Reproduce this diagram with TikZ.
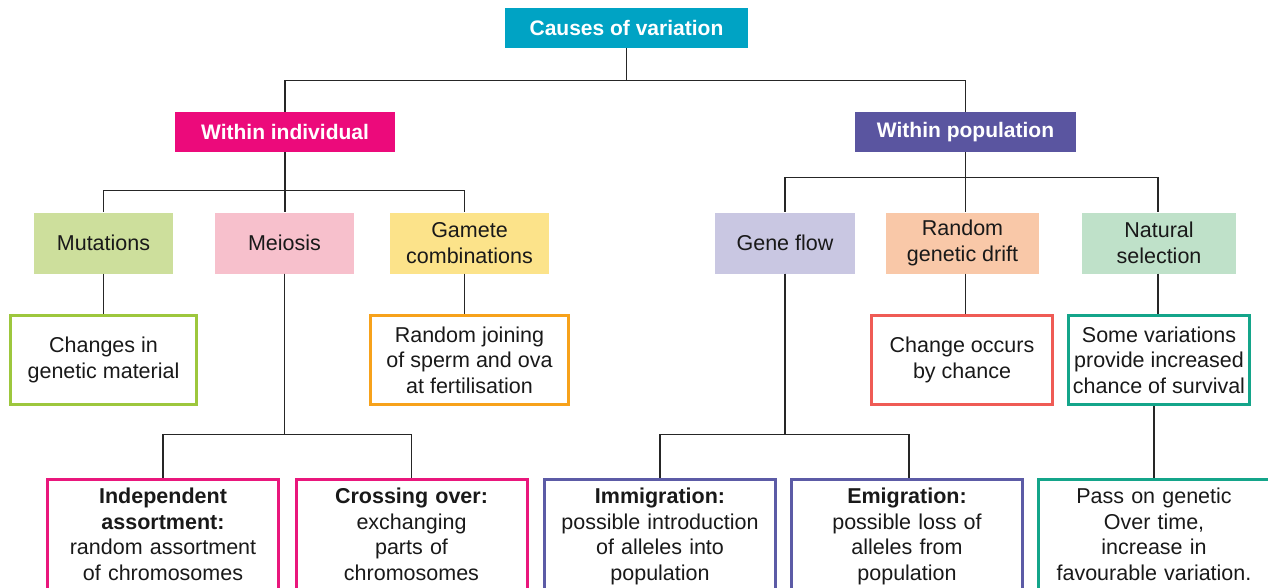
\documentclass[tikz,border=0pt]{standalone}
\usepackage{fontspec}
\setmainfont{Liberation Sans}
\usetikzlibrary{calc}
\definecolor{ccyan}{HTML}{00A3C4}
\definecolor{cmag}{HTML}{EC0A7B}
\definecolor{cpur}{HTML}{5A55A0}
\definecolor{fmut}{HTML}{CDDF9C}
\definecolor{fmei}{HTML}{F7C0CC}
\definecolor{fgam}{HTML}{FCE38A}
\definecolor{fgf}{HTML}{C9C7E2}
\definecolor{frgd}{HTML}{F9C8A8}
\definecolor{fns}{HTML}{BFE1C9}
\definecolor{cgreen}{HTML}{9DC73D}
\definecolor{corange}{HTML}{F7A21B}
\definecolor{cpink}{HTML}{E9177C}
\definecolor{cblue}{HTML}{5C5BA6}
\definecolor{cred}{HTML}{EF5B55}
\definecolor{cteal}{HTML}{14A58A}
\begin{document}
\begin{tikzpicture}[x=1pt,y=-1pt,
  every node/.style={font=\fontsize{21.5}{25.6}\selectfont, align=center, inner sep=0pt, text=black!90},
  head/.style={minimum height=40pt, text=white, font=\fontsize{21}{25}\selectfont\bfseries},
  cat/.style={minimum height=61pt},
  desc/.style={draw, line width=3pt, minimum height=89pt},
  leaf/.style={draw, line width=3pt, anchor=north, inner xsep=0pt, inner ysep=9pt, text width=231pt},
  link/.style={draw=black!85, line width=1.4pt}
]
\useasboundingbox (0,0) rectangle (1268,587);
\clip (0,0) rectangle (1268,587);

% level 0/1
\node[head, fill=ccyan, minimum width=243pt] (title) at (626.5,28) {Causes of variation};
\node[head, fill=cmag, minimum width=220pt] (wi) at (285,132) {Within individual};
\node[head, fill=cpur, minimum width=221pt] (wp) at (965.5,132) {Within population};

% level 2
\node[cat, fill=fmut, minimum width=139pt] (mut) at (103.5,243) {Mutations};
\node[cat, fill=fmei, minimum width=139pt] (mei) at (284.5,243) {Meiosis};
\node[cat, fill=fgam, minimum width=159pt] (gam) at (469.5,243) {Gamete\\combinations};
\node[cat, fill=fgf, minimum width=140pt] (gf) at (785,243) {Gene flow};
\node[cat, fill=frgd, minimum width=153pt] (rgd) at (962.5,243) {Random\\genetic drift};
\node[cat, fill=fns, minimum width=154pt] (ns) at (1159,243) {Natural\\selection};

% level 3
\node[desc, draw=cgreen, minimum width=186pt] (chg) at (103.5,360) {Changes in\\genetic material};
\node[desc, draw=corange, minimum width=198pt] (join) at (469.5,360) {Random joining\\of sperm and ova\\at fertilisation};
\node[desc, draw=cred, minimum width=181pt] (chance) at (962,360) {Change occurs\\by chance};
\node[desc, draw=cteal, minimum width=181pt] (some) at (1159,360) {Some variations\\provide increased\\chance of survival};

% level 4
\node[leaf, draw=cpink] (ind) at (163,477.5) {\textbf{Independent}\\\textbf{assortment:}\\random assortment\\of chromosomes};
\node[leaf, draw=cpink] (cross) at (411.5,477.5) {\textbf{Crossing over:}\\exchanging\\parts of\\chromosomes};
\node[leaf, draw=cblue] (immig) at (660,477.5) {\textbf{Immigration:}\\possible introduction\\of alleles into\\population};
\node[leaf, draw=cblue] (emig) at (907,477.5) {\textbf{Emigration:}\\possible loss of\\alleles from\\population};
\node[leaf, draw=cteal] (pass) at (1154,477.5) {Pass on genetic\\Over time,\\increase in\\favourable variation.};

% connectors
\draw[link] (title.south) -- ++(0,32) -| (wi.north);
\draw[link] (title.south) -- ++(0,32) -| (wp.north);
\draw[link] (wi.south) -- ++(0,38) -| (mut.north);
\draw[link] (wi.south) -- (wi.south |- mei.north);
\draw[link] (wi.south) -- ++(0,38) -| ([xshift=-5pt]gam.north);
\draw[link] (wp.south) -- ++(0,25) -| (gf.north);
\draw[link] (wp.south) -- (wp.south |- rgd.north);
\draw[link] (wp.south) -- ++(0,25) -| ([xshift=-1pt]ns.north);
\draw[link] (mut.south) -- (mut.south |- chg.north);
\draw[link] ([xshift=-5pt]gam.south) -- ([xshift=-5pt]gam.south |- join.north);
\draw[link] (wp.south |- rgd.south) -- (wp.south |- chance.north);
\draw[link] ([xshift=-1pt]ns.south) -- ([xshift=-1pt]ns.south |- some.north);
\draw[link] (pass.north |- some.south) -- (pass.north);
\draw[link] (mei.south) -- ++(0,160.5) -| (ind.north);
\draw[link] (mei.south) -- ++(0,160.5) -| (cross.north);
\draw[link] (gf.south) -- ++(0,160.5) -| (immig.north);
\draw[link] (gf.south) -- ++(0,160.5) -| ([xshift=2pt]emig.north);
\end{tikzpicture}
\end{document}
